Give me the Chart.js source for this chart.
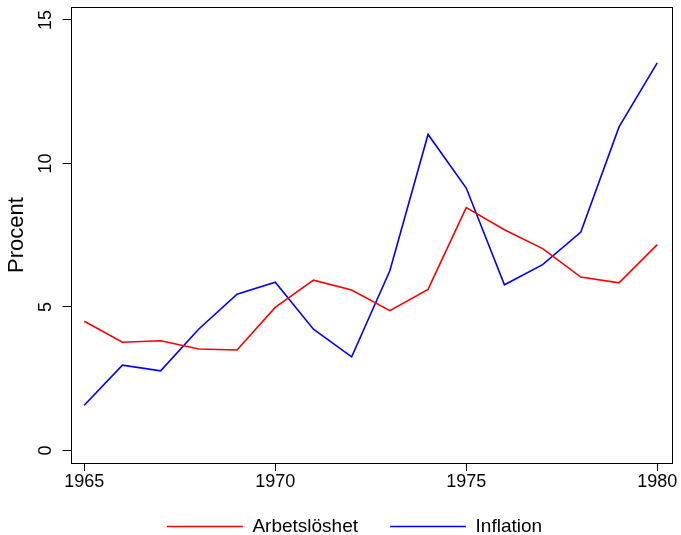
<!DOCTYPE html>
<html>
<head>
<meta charset="utf-8">
<script src="https://cdn.jsdelivr.net/npm/chart.js@4/dist/chart.umd.min.js"></script>
<style>
  html, body { margin: 0; padding: 0; background: #fff; }
  canvas { display: block; }
</style>
</head>
<body>
<canvas id="chart" width="681" height="535"></canvas>
<script>
// data
const years = [1965, 1966, 1967, 1968, 1969, 1970, 1971, 1972, 1973, 1974, 1975, 1976, 1977, 1978, 1979, 1980];
const arbetsloshet = [4.5, 3.77, 3.82, 3.53, 3.5, 4.98, 5.93, 5.59, 4.87, 5.61, 8.46, 7.69, 7.03, 6.04, 5.84, 7.17];
const inflation = [1.57, 2.97, 2.77, 4.23, 5.44, 5.86, 4.22, 3.26, 6.26, 11.01, 9.14, 5.77, 6.47, 7.61, 11.27, 13.5];
const xTicks = [1965, 1970, 1975, 1980];
const yTicks = [0, 5, 10, 15];

const FONT = "'Liberation Sans', Arial, sans-serif";

// box around the plot + rotated y tick labels (R style)
const boxPlugin = {
  id: "box",
  afterDraw(chart) {
    const { ctx, chartArea: a } = chart;
    ctx.save();
    ctx.strokeStyle = "#000";
    ctx.lineWidth = 1;
    ctx.strokeRect(Math.round(a.left) + 0.5, Math.round(a.top) + 0.5,
      Math.round(a.right - a.left), Math.round(a.bottom - a.top));

    const ys = chart.scales.y;
    ctx.fillStyle = "#000";
    ctx.font = "18px " + FONT;
    ctx.textAlign = "center";
    ctx.textBaseline = "middle";
    ys.ticks.forEach(t => {
      ctx.save();
      ctx.translate(a.left - 24, ys.getPixelForValue(t.value));
      ctx.rotate(-Math.PI / 2);
      ctx.fillText(String(t.value), 0, 0);
      ctx.restore();
    });
    ctx.restore();
  },
  afterLayout(chart) {
    // nudge the legend to where R puts it
    chart.legend.left += 19;
    chart.legend.right += 19;
    chart.legend.top -= 11;
    chart.legend.bottom -= 11;
  }
};

const ctx = document.getElementById("chart").getContext("2d");
new Chart(ctx, {
  type: "line",
  data: {
    datasets: [{
      label: "Arbetslöshet",
      data: years.map((y, i) => ({ x: y, y: arbetsloshet[i] })),
      borderColor: "#ff0000",
      backgroundColor: "#ff0000",
      borderWidth: 1.6,
      pointRadius: 0,
      tension: 0
    }, {
      label: "Inflation",
      data: years.map((y, i) => ({ x: y, y: inflation[i] })),
      borderColor: "#0000ff",
      backgroundColor: "#0000ff",
      borderWidth: 1.6,
      pointRadius: 0,
      tension: 0
    }]
  },
  options: {
    responsive: false,
    animation: false,
    devicePixelRatio: 1,
    layout: { padding: { top: 7, right: 10, left: 0, bottom: -22 } },
    plugins: {
      tooltip: { enabled: false },
      legend: {
        position: "bottom",
        labels: {
          usePointStyle: true,
          pointStyle: "line",
          pointStyleWidth: 76,
          padding: 32,
          color: "#000",
          font: { family: FONT, size: 19 }
        }
      }
    },
    scales: {
      x: {
        type: "linear",
        min: 1964.64,
        max: 1980.36,
        afterBuildTicks: s => { s.ticks = xTicks.map(v => ({ value: v })); },
        afterFit: s => { s.height = 33; },
        border: { display: false },
        grid: { drawOnChartArea: false, drawTicks: true, tickLength: 8, color: "#000" },
        ticks: {
          color: "#000",
          padding: 0,
          maxRotation: 0,
          font: { family: FONT, size: 18 },
          callback: v => String(v)
        }
      },
      y: {
        min: -0.44,
        max: 15.45,
        afterBuildTicks: s => { s.ticks = yTicks.map(v => ({ value: v })); },
        afterFit: s => { s.width = 70.5; },
        border: { display: false },
        grid: { drawOnChartArea: false, drawTicks: true, tickLength: 8, color: "#000" },
        ticks: { display: false },
        title: {
          display: true,
          text: "Procent",
          color: "#000",
          font: { family: FONT, size: 22 }
        }
      }
    }
  },
  plugins: [boxPlugin]
});
</script>
</body>
</html>
